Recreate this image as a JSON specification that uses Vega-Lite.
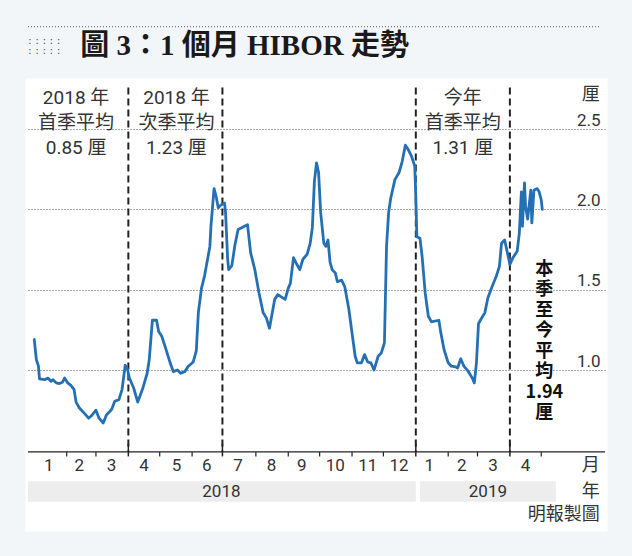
{
  "$schema": "https://vega.github.io/schema/vega-lite/v6.json",
  "width": 577,
  "height": 448,
  "autosize": {"type": "none"},
  "padding": {"left": 28, "top": 81, "right": 27, "bottom": 27},
  "background": "#f3f6f9",
  "view": {"fill": "white", "stroke": "white", "strokeWidth": 5},
  "config": {"text": {"font": "Roboto, Noto Sans CJK TC", "color": "#333"}},
  "datasets": {
    "hibor": [
      {"d": "2018-01-01", "v": 1.19}, {"d": "2018-01-03", "v": 1.065}, {"d": "2018-01-05", "v": 1.024}, {"d": "2018-01-06", "v": 0.945},
      {"d": "2018-01-11", "v": 0.94}, {"d": "2018-01-14", "v": 0.95}, {"d": "2018-01-17", "v": 0.93}, {"d": "2018-01-19", "v": 0.94},
      {"d": "2018-01-22", "v": 0.92}, {"d": "2018-01-25", "v": 0.916}, {"d": "2018-01-28", "v": 0.924}, {"d": "2018-01-30", "v": 0.95},
      {"d": "2018-02-02", "v": 0.92}, {"d": "2018-02-05", "v": 0.904}, {"d": "2018-02-08", "v": 0.88}, {"d": "2018-02-10", "v": 0.80},
      {"d": "2018-02-13", "v": 0.765}, {"d": "2018-02-18", "v": 0.73}, {"d": "2018-02-22", "v": 0.70}, {"d": "2018-02-25", "v": 0.717},
      {"d": "2018-03-01", "v": 0.75}, {"d": "2018-03-04", "v": 0.70}, {"d": "2018-03-08", "v": 0.67}, {"d": "2018-03-11", "v": 0.72},
      {"d": "2018-03-16", "v": 0.754}, {"d": "2018-03-19", "v": 0.806}, {"d": "2018-03-23", "v": 0.816}, {"d": "2018-03-26", "v": 0.88},
      {"d": "2018-03-29", "v": 1.03}, {"d": "2018-03-31", "v": 1.01}, {"d": "2018-04-02", "v": 0.95}, {"d": "2018-04-06", "v": 0.89},
      {"d": "2018-04-10", "v": 0.80}, {"d": "2018-04-15", "v": 0.89}, {"d": "2018-04-19", "v": 0.98}, {"d": "2018-04-21", "v": 1.065},
      {"d": "2018-04-24", "v": 1.31}, {"d": "2018-04-28", "v": 1.31}, {"d": "2018-04-30", "v": 1.24}, {"d": "2018-05-03", "v": 1.21},
      {"d": "2018-05-06", "v": 1.15}, {"d": "2018-05-11", "v": 1.045}, {"d": "2018-05-14", "v": 0.99}, {"d": "2018-05-18", "v": 1.0},
      {"d": "2018-05-21", "v": 0.98}, {"d": "2018-05-25", "v": 0.99}, {"d": "2018-05-28", "v": 1.02}, {"d": "2018-06-02", "v": 1.05},
      {"d": "2018-06-05", "v": 1.12}, {"d": "2018-06-07", "v": 1.36}, {"d": "2018-06-10", "v": 1.51}, {"d": "2018-06-13", "v": 1.59},
      {"d": "2018-06-18", "v": 1.77}, {"d": "2018-06-19", "v": 1.895}, {"d": "2018-06-22", "v": 2.13}, {"d": "2018-06-24", "v": 2.08},
      {"d": "2018-06-26", "v": 2.01}, {"d": "2018-06-29", "v": 2.03}, {"d": "2018-07-02", "v": 2.04}, {"d": "2018-07-03", "v": 1.98},
      {"d": "2018-07-05", "v": 1.69}, {"d": "2018-07-06", "v": 1.625}, {"d": "2018-07-09", "v": 1.65}, {"d": "2018-07-12", "v": 1.78},
      {"d": "2018-07-15", "v": 1.875}, {"d": "2018-07-18", "v": 1.885}, {"d": "2018-07-21", "v": 1.895}, {"d": "2018-07-24", "v": 1.905},
      {"d": "2018-07-27", "v": 1.73}, {"d": "2018-07-31", "v": 1.625}, {"d": "2018-08-04", "v": 1.48}, {"d": "2018-08-08", "v": 1.356},
      {"d": "2018-08-11", "v": 1.325}, {"d": "2018-08-14", "v": 1.26}, {"d": "2018-08-19", "v": 1.44}, {"d": "2018-08-22", "v": 1.47},
      {"d": "2018-08-29", "v": 1.44}, {"d": "2018-09-01", "v": 1.51}, {"d": "2018-09-03", "v": 1.54}, {"d": "2018-09-06", "v": 1.70},
      {"d": "2018-09-09", "v": 1.66}, {"d": "2018-09-12", "v": 1.625}, {"d": "2018-09-15", "v": 1.69}, {"d": "2018-09-19", "v": 1.72},
      {"d": "2018-09-22", "v": 1.79}, {"d": "2018-09-24", "v": 1.885}, {"d": "2018-09-26", "v": 2.175}, {"d": "2018-09-28", "v": 2.29},
      {"d": "2018-09-30", "v": 2.23}, {"d": "2018-10-02", "v": 1.98}, {"d": "2018-10-05", "v": 1.79}, {"d": "2018-10-07", "v": 1.77},
      {"d": "2018-10-09", "v": 1.81}, {"d": "2018-10-11", "v": 1.67}, {"d": "2018-10-13", "v": 1.625}, {"d": "2018-10-16", "v": 1.605},
      {"d": "2018-10-18", "v": 1.55}, {"d": "2018-10-22", "v": 1.56}, {"d": "2018-10-25", "v": 1.52}, {"d": "2018-10-29", "v": 1.377},
      {"d": "2018-11-01", "v": 1.23}, {"d": "2018-11-04", "v": 1.086}, {"d": "2018-11-06", "v": 1.045}, {"d": "2018-11-10", "v": 1.045},
      {"d": "2018-11-13", "v": 1.096}, {"d": "2018-11-16", "v": 1.05}, {"d": "2018-11-19", "v": 1.045}, {"d": "2018-11-22", "v": 1.0},
      {"d": "2018-11-26", "v": 1.086}, {"d": "2018-11-29", "v": 1.107}, {"d": "2018-12-02", "v": 1.17}, {"d": "2018-12-04", "v": 1.77},
      {"d": "2018-12-06", "v": 1.98}, {"d": "2018-12-08", "v": 2.07}, {"d": "2018-12-12", "v": 2.186}, {"d": "2018-12-16", "v": 2.23},
      {"d": "2018-12-19", "v": 2.30}, {"d": "2018-12-22", "v": 2.40}, {"d": "2018-12-25", "v": 2.37}, {"d": "2018-12-28", "v": 2.33},
      {"d": "2018-12-31", "v": 2.27}, {"d": "2019-01-01", "v": 2.08}, {"d": "2019-01-02", "v": 1.83}, {"d": "2019-01-05", "v": 1.82},
      {"d": "2019-01-07", "v": 1.71}, {"d": "2019-01-10", "v": 1.48}, {"d": "2019-01-13", "v": 1.335}, {"d": "2019-01-16", "v": 1.30},
      {"d": "2019-01-23", "v": 1.31}, {"d": "2019-01-25", "v": 1.23}, {"d": "2019-01-28", "v": 1.128}, {"d": "2019-02-01", "v": 1.045},
      {"d": "2019-02-04", "v": 1.024}, {"d": "2019-02-08", "v": 1.02}, {"d": "2019-02-10", "v": 1.013}, {"d": "2019-02-13", "v": 1.07},
      {"d": "2019-02-16", "v": 1.024}, {"d": "2019-02-20", "v": 0.993}, {"d": "2019-02-24", "v": 0.95}, {"d": "2019-02-26", "v": 0.92},
      {"d": "2019-02-28", "v": 1.045}, {"d": "2019-03-02", "v": 1.29}, {"d": "2019-03-06", "v": 1.335}, {"d": "2019-03-08", "v": 1.356},
      {"d": "2019-03-11", "v": 1.45}, {"d": "2019-03-15", "v": 1.52}, {"d": "2019-03-19", "v": 1.584}, {"d": "2019-03-22", "v": 1.646},
      {"d": "2019-03-24", "v": 1.79}, {"d": "2019-03-27", "v": 1.81}, {"d": "2019-03-29", "v": 1.75}, {"d": "2019-04-01", "v": 1.657},
      {"d": "2019-04-04", "v": 1.70}, {"d": "2019-04-08", "v": 1.74}, {"d": "2019-04-10", "v": 1.85}, {"d": "2019-04-12", "v": 2.11},
      {"d": "2019-04-13", "v": 1.895}, {"d": "2019-04-15", "v": 2.165}, {"d": "2019-04-16", "v": 2.02}, {"d": "2019-04-18", "v": 1.94},
      {"d": "2019-04-21", "v": 2.12}, {"d": "2019-04-22", "v": 1.916}, {"d": "2019-04-24", "v": 2.12}, {"d": "2019-04-27", "v": 2.13},
      {"d": "2019-04-29", "v": 2.11}, {"d": "2019-05-01", "v": 2.06}, {"d": "2019-05-02", "v": 2.0}
    ],
    "quarters": [
      {"d": "2018-04-01", "v": 2.76, "v2": 0.49},
      {"d": "2018-06-30", "v": 2.76, "v2": 0.49},
      {"d": "2019-01-01", "v": 2.76, "v2": 0.49},
      {"d": "2019-04-01", "v": 2.76, "v2": 0.49}
    ],
    "majorTicks": [
      {"d": "2018-04-01", "v": 0.54, "v2": 0.462},
      {"d": "2018-06-30", "v": 0.54, "v2": 0.462},
      {"d": "2019-01-01", "v": 0.54, "v2": 0.462},
      {"d": "2019-04-01", "v": 0.54, "v2": 0.462}
    ],
    "minorTicks": [
      {"d": "2018-02-01", "v": 0.49, "v2": 0.462}, {"d": "2018-03-01", "v": 0.49, "v2": 0.462},
      {"d": "2018-05-01", "v": 0.49, "v2": 0.462}, {"d": "2018-06-01", "v": 0.49, "v2": 0.462},
      {"d": "2018-08-01", "v": 0.49, "v2": 0.462}, {"d": "2018-09-01", "v": 0.49, "v2": 0.462},
      {"d": "2018-10-01", "v": 0.49, "v2": 0.462}, {"d": "2018-11-01", "v": 0.49, "v2": 0.462},
      {"d": "2018-12-01", "v": 0.49, "v2": 0.462}, {"d": "2019-02-01", "v": 0.49, "v2": 0.462},
      {"d": "2019-03-01", "v": 0.49, "v2": 0.462}, {"d": "2019-05-01", "v": 0.49, "v2": 0.462}
    ],
    "axisLine": [{"d": "2017-12-26", "d2": "2019-07-01", "v": 0.49}],
    "topLine": [{"d": "2017-12-26", "d2": "2019-06-26", "v": 3.138}],
    "bands": [
      {"d": "2017-12-26", "d2": "2019-01-01", "v": 0.308, "v2": 0.18},
      {"d": "2019-01-05", "d2": "2019-05-15", "v": 0.308, "v2": 0.18}
    ],
    "years": [
      {"d": "2018-06-29", "v": 0.242, "t": "2018"},
      {"d": "2019-03-11", "v": 0.242, "t": "2019"}
    ],
    "months": [
      {"d": "2018-01-15", "v": 0.401, "t": "1"}, {"d": "2018-02-13", "v": 0.401, "t": "2"},
      {"d": "2018-03-16", "v": 0.401, "t": "3"}, {"d": "2018-04-16", "v": 0.401, "t": "4"},
      {"d": "2018-05-17", "v": 0.401, "t": "5"}, {"d": "2018-06-15", "v": 0.401, "t": "6"},
      {"d": "2018-07-15", "v": 0.401, "t": "7"}, {"d": "2018-08-16", "v": 0.401, "t": "8"},
      {"d": "2018-09-14", "v": 0.401, "t": "9"}, {"d": "2018-10-16", "v": 0.401, "t": "10"},
      {"d": "2018-11-16", "v": 0.401, "t": "11"}, {"d": "2018-12-16", "v": 0.401, "t": "12"},
      {"d": "2019-01-14", "v": 0.401, "t": "1"}, {"d": "2019-02-14", "v": 0.401, "t": "2"},
      {"d": "2019-03-16", "v": 0.401, "t": "3"}, {"d": "2019-04-16", "v": 0.401, "t": "4"}
    ],
    "rightLabels": [
      {"d": "2019-06-26", "v": 2.715, "t": "厘"},
      {"d": "2019-06-26", "v": 0.401, "t": "月"},
      {"d": "2019-06-26", "v": 0.242, "t": "年"},
      {"d": "2019-06-26", "v": 0.10, "t": "明報製圖"}
    ],
    "notes": [
      {"d": "2018-02-10", "v": 2.692, "t": "2018 年\n首季平均\n0.85 厘"},
      {"d": "2018-05-17", "v": 2.692, "t": "2018 年\n次季平均\n1.23 厘"},
      {"d": "2019-02-15", "v": 2.692, "t": "今年\n首季平均\n1.31 厘"}
    ],
    "current": [{"d": "2019-05-04", "v": 1.623, "t": "本\n季\n至\n今\n平\n均\n1.94\n厘"}],
    "title": [{"d": "2018-02-14", "v": 3.02, "t": "圖 3：1 個月 HIBOR 走勢"}],
    "dots": [{"d": "2017-12-26", "v": 3.05, "t": ": : : : :\n: : : : :"}]
  },
  "encoding": {
    "x": {
      "field": "d",
      "type": "temporal",
      "scale": {"domain": [{"year": 2017, "month": 12, "date": 26, "utc": true}, {"year": 2019, "month": 7, "date": 1, "utc": true}]},
      "axis": null
    },
    "y": {
      "field": "v",
      "type": "quantitative",
      "scale": {"domain": [0.01, 2.8], "nice": false, "zero": false},
      "axis": {
        "values": [1, 1.5, 2, 2.5],
        "format": ".1f",
        "orient": "right",
        "grid": true,
        "gridDash": [1, 2],
        "gridColor": "#555",
        "gridWidth": 1,
        "domain": false,
        "ticks": false,
        "labelAlign": "right",
        "labelPadding": -5,
        "labelBaseline": "alphabetic",
        "labelOffset": -4,
        "labelFontSize": 17,
        "labelFont": "Roboto",
        "labelColor": "#333",
        "title": null
      }
    }
  },
  "layer": [
    {
      "data": {"name": "bands"},
      "mark": {"type": "rect", "color": "#ededed"},
      "encoding": {"x2": {"field": "d2"}, "y2": {"field": "v2"}}
    },
    {
      "data": {"name": "quarters"},
      "mark": {"type": "rule", "color": "#222", "strokeWidth": 2, "strokeDash": [7, 4]},
      "encoding": {"y2": {"field": "v2"}}
    },
    {
      "data": {"name": "majorTicks"},
      "mark": {"type": "rule", "color": "#222", "strokeWidth": 1.5},
      "encoding": {"y2": {"field": "v2"}}
    },
    {
      "data": {"name": "minorTicks"},
      "mark": {"type": "rule", "color": "#222", "strokeWidth": 1.2},
      "encoding": {"y2": {"field": "v2"}}
    },
    {
      "data": {"name": "axisLine"},
      "mark": {"type": "rule", "color": "#222", "strokeWidth": 1.3},
      "encoding": {"x2": {"field": "d2"}}
    },
    {
      "data": {"name": "topLine"},
      "mark": {"type": "rule", "color": "#555", "strokeWidth": 1, "strokeDash": [1, 2]},
      "encoding": {"x2": {"field": "d2"}}
    },
    {
      "data": {"name": "hibor"},
      "mark": {"type": "line", "color": "#2570b5", "strokeWidth": 2.8, "strokeJoin": "round", "strokeCap": "round"}
    },
    {
      "data": {"name": "notes"},
      "mark": {"type": "text", "lineBreak": "\n", "lineHeight": 25, "fontSize": 19, "align": "center", "baseline": "middle", "color": "#333"},
      "encoding": {"text": {"field": "t", "type": "nominal"}}
    },
    {
      "data": {"name": "months"},
      "mark": {"type": "text", "fontSize": 17, "align": "center", "baseline": "middle", "color": "#333"},
      "encoding": {"text": {"field": "t", "type": "nominal"}}
    },
    {
      "data": {"name": "years"},
      "mark": {"type": "text", "fontSize": 17, "align": "center", "baseline": "middle", "color": "#333"},
      "encoding": {"text": {"field": "t", "type": "nominal"}}
    },
    {
      "data": {"name": "rightLabels"},
      "mark": {"type": "text", "fontSize": 18, "align": "right", "baseline": "middle", "color": "#333"},
      "encoding": {"text": {"field": "t", "type": "nominal"}}
    },
    {
      "data": {"name": "current"},
      "mark": {"type": "text", "lineBreak": "\n", "lineHeight": 20.5, "fontSize": 18, "fontWeight": "bold", "align": "center", "baseline": "middle", "color": "#111", "font": "Noto Sans CJK TC"},
      "encoding": {"text": {"field": "t", "type": "nominal"}}
    },
    {
      "data": {"name": "title"},
      "mark": {"type": "text", "fontSize": 29, "fontWeight": "bold", "align": "left", "baseline": "middle", "color": "#1a1a1a", "font": "Liberation Serif, Noto Sans CJK TC"},
      "encoding": {"text": {"field": "t", "type": "nominal"}}
    },
    {
      "data": {"name": "dots"},
      "mark": {"type": "text", "lineBreak": "\n", "lineHeight": 10, "fontSize": 11, "align": "left", "baseline": "middle", "color": "#555", "font": "DejaVu Sans"},
      "encoding": {"text": {"field": "t", "type": "nominal"}}
    }
  ]
}
